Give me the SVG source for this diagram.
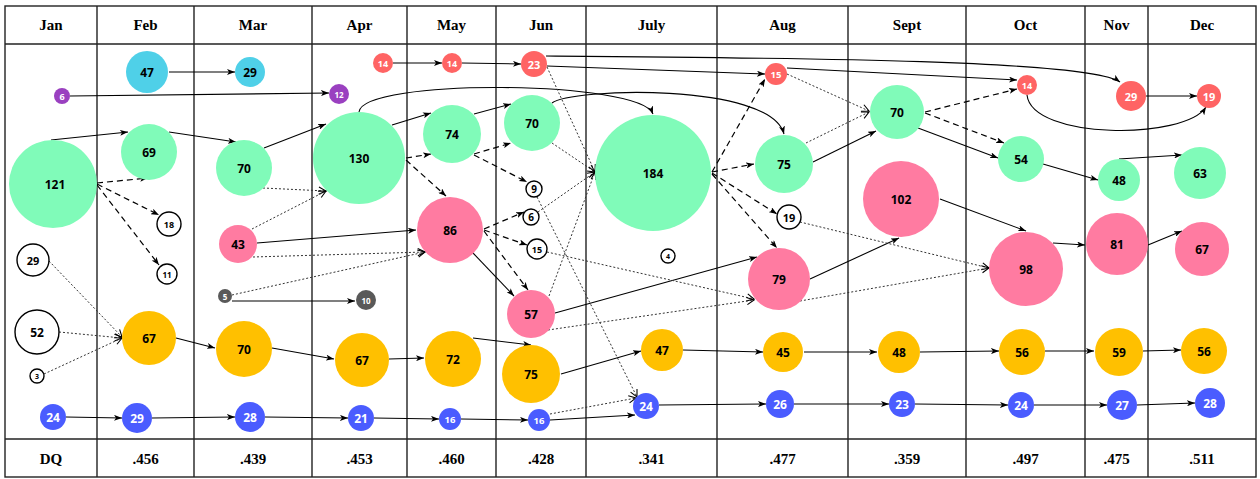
<svg xmlns="http://www.w3.org/2000/svg" width="1260" height="479" viewBox="0 0 1260 479">
<defs>
<marker id="f" viewBox="0 0 8 6" refX="8" refY="3" markerWidth="8" markerHeight="6" orient="auto" markerUnits="userSpaceOnUse"><path d="M0,0 L8,3 L0,6 L2,3 z" fill="#000"/></marker>
<marker id="o" viewBox="0 0 10 10" refX="9" refY="5" markerWidth="9" markerHeight="9" orient="auto" markerUnits="userSpaceOnUse"><path d="M1,1 L9,5 L1,9" fill="none" stroke="#000" stroke-width="1.2"/></marker>
<style>
.grid line,.grid rect{stroke:#222;stroke-width:1.4;fill:none}
.h{font-family:"Liberation Serif",serif;font-weight:bold;font-size:15px;text-anchor:middle;fill:#000}
.s{fill:none;stroke:#000;stroke-width:1.1;marker-end:url(#f)}
.d{fill:none;stroke:#000;stroke-width:1.2;stroke-dasharray:6 4;marker-end:url(#f)}
.t{fill:none;stroke:#333;stroke-width:1;stroke-dasharray:2 2;marker-end:url(#o)}
.n text{font-family:"Open Sans","Noto Sans",sans-serif;font-weight:bold;text-anchor:middle;dominant-baseline:central;font-size:12px;fill:#000}
.gr circle{fill:#80fbb9}
.pk circle{fill:#ff7ba1}
.or circle{fill:#ffc000}
.bl circle{fill:#4a5cff}
.rd circle{fill:#ff6464}
.cy circle{fill:#4fd0e8}
.pu circle{fill:#9a40c0}
.gy circle{fill:#595959}
.wh circle{fill:#fff;stroke:#000;stroke-width:1.4}
.bl text,.rd text,.pu text,.gy text{fill:#fff}
</style>
</defs>
<g class="grid">
<rect x="5" y="6" width="1251" height="471"/>
<line x1="5" y1="44" x2="1256" y2="44"/>
<line x1="5" y1="439" x2="1256" y2="439"/>
<line x1="97" y1="6" x2="97" y2="477"/>
<line x1="194" y1="6" x2="194" y2="477"/>
<line x1="312" y1="6" x2="312" y2="477"/>
<line x1="407" y1="6" x2="407" y2="477"/>
<line x1="496" y1="6" x2="496" y2="477"/>
<line x1="586" y1="6" x2="586" y2="477"/>
<line x1="717" y1="6" x2="717" y2="477"/>
<line x1="848" y1="6" x2="848" y2="477"/>
<line x1="966" y1="6" x2="966" y2="477"/>
<line x1="1085" y1="6" x2="1085" y2="477"/>
<line x1="1148" y1="6" x2="1148" y2="477"/>
</g>
<g id="header">
<text class="h" x="51" y="30">Jan</text>
<text class="h" x="145.5" y="30">Feb</text>
<text class="h" x="253" y="30">Mar</text>
<text class="h" x="359.5" y="30">Apr</text>
<text class="h" x="451.5" y="30">May</text>
<text class="h" x="541" y="30">Jun</text>
<text class="h" x="651.5" y="30">July</text>
<text class="h" x="782.5" y="30">Aug</text>
<text class="h" x="907" y="30">Sept</text>
<text class="h" x="1025.5" y="30">Oct</text>
<text class="h" x="1116.5" y="30">Nov</text>
<text class="h" x="1202" y="30">Dec</text>
</g>
<g id="footer">
<text class="h" x="51" y="464">DQ</text>
<text class="h" x="145.5" y="464">.456</text>
<text class="h" x="253" y="464">.439</text>
<text class="h" x="359.5" y="464">.453</text>
<text class="h" x="451.5" y="464">.460</text>
<text class="h" x="541" y="464">.428</text>
<text class="h" x="651.5" y="464">.341</text>
<text class="h" x="782.5" y="464">.477</text>
<text class="h" x="907" y="464">.359</text>
<text class="h" x="1025.5" y="464">.497</text>
<text class="h" x="1116.5" y="464">.475</text>
<text class="h" x="1202" y="464">.511</text>
</g>
<g id="connectors">
<path class="s" d="M169,72 L235,72"/>
<path class="s" d="M70,96 L329,93"/>
<path class="s" d="M393,63 L442,63"/>
<path class="s" d="M462,63 L521,64"/>
<path class="s" d="M546,56 C800,58 1090,60 1120,82"/>
<path class="s" d="M547,66 L765,74"/>
<path class="s" d="M787,68 L1017,80"/>
<path class="s" d="M1027,95 C1032,140 1185,140 1206,107"/>
<path class="s" d="M1146,96 L1197,96"/>
<path class="s" d="M51,140 L128,132"/>
<path class="s" d="M169,132 L236,142"/>
<path class="s" d="M264,148 L326,124"/>
<path class="s" d="M392,125 L431,113"/>
<path class="s" d="M474,114 L511,104"/>
<path class="s" d="M359,112 C362,78 640,80 653,114"/>
<path class="s" d="M552,103 C570,88 770,82 784,134"/>
<path class="s" d="M813,162 L876,131"/>
<path class="s" d="M918,128 L998,158"/>
<path class="s" d="M1043,164 L1098,180"/>
<path class="s" d="M1119,159 L1182,155"/>
<path class="s" d="M257,243 L416,230"/>
<path class="s" d="M473,253 L514,296"/>
<path class="s" d="M555,313 L757,257"/>
<path class="s" d="M810,279 L899,238"/>
<path class="s" d="M940,199 L1026,231"/>
<path class="s" d="M1053,243 L1085,245"/>
<path class="s" d="M1148,245 L1182,231"/>
<path class="s" d="M232,301 L355,301"/>
<path class="s" d="M176,338 L215,348"/>
<path class="s" d="M272,348 L334,359"/>
<path class="s" d="M389,359 L424,358"/>
<path class="s" d="M473,338 L531,345"/>
<path class="s" d="M561,374 L641,351"/>
<path class="s" d="M683,350 L763,352"/>
<path class="s" d="M804,352 L877,352"/>
<path class="s" d="M920,352 L999,351"/>
<path class="s" d="M1045,351 L1094,351"/>
<path class="s" d="M1143,351 L1181,350"/>
<path class="s" d="M66,417 L122,418"/>
<path class="s" d="M152,418 L235,417"/>
<path class="s" d="M265,417 L348,418"/>
<path class="s" d="M374,418 L439,419"/>
<path class="s" d="M461,419 L528,420"/>
<path class="s" d="M550,420 L635,415"/>
<path class="s" d="M659,405 L766,404"/>
<path class="s" d="M794,404 L889,404"/>
<path class="s" d="M915,404 L1008,405"/>
<path class="s" d="M1034,405 L1107,405"/>
<path class="s" d="M1137,405 L1195,403"/>
<path class="d" d="M97,183 L148,178"/>
<path class="d" d="M97,184 L159,215"/>
<path class="d" d="M97,185 L159,265"/>
<path class="d" d="M406,158 L431,154"/>
<path class="d" d="M406,160 L446,196"/>
<path class="d" d="M474,154 L511,143"/>
<path class="d" d="M474,155 L527,182"/>
<path class="d" d="M484,229 L524,212"/>
<path class="d" d="M484,230 L527,245"/>
<path class="d" d="M484,231 L528,290"/>
<path class="d" d="M712,172 L765,79"/>
<path class="d" d="M712,172 L754,164"/>
<path class="d" d="M712,173 L777,214"/>
<path class="d" d="M712,174 L777,248"/>
<path class="d" d="M925,112 L1017,89"/>
<path class="d" d="M925,113 L1004,143"/>
<path class="t" d="M49,261 L122,337"/>
<path class="t" d="M59,332 L122,338"/>
<path class="t" d="M44,374 L122,338"/>
<path class="t" d="M263,188 L326,191"/>
<path class="t" d="M252,229 L326,191"/>
<path class="t" d="M253,257 L425,252"/>
<path class="t" d="M232,295 L425,252"/>
<path class="t" d="M552,143 L595,172"/>
<path class="t" d="M547,67 L595,172"/>
<path class="t" d="M538,212 L595,172"/>
<path class="t" d="M549,296 L595,172"/>
<path class="t" d="M537,197 L637,397"/>
<path class="t" d="M550,414 L636,398"/>
<path class="t" d="M547,252 L754,299"/>
<path class="t" d="M548,330 L754,300"/>
<path class="t" d="M806,143 L869,112"/>
<path class="t" d="M787,74 L869,111"/>
<path class="t" d="M800,222 L989,268"/>
<path class="t" d="M800,301 L989,268"/>
</g>
<g id="n-jan-121" class="n gr"><circle cx="53" cy="184" r="44"/><text x="55" y="184">121</text></g>
<g id="n-jan-6" class="n pu"><circle cx="62" cy="96" r="8"/><text x="62" y="96" style="font-size:9px">6</text></g>
<g id="n-jan-29" class="n wh"><circle cx="33" cy="260" r="16"/><text x="33" y="260" style="font-size:11px">29</text></g>
<g id="n-jan-52" class="n wh"><circle cx="37" cy="332" r="22"/><text x="37" y="332">52</text></g>
<g id="n-jan-3" class="n wh"><circle cx="37" cy="376" r="7"/><text x="37" y="376" style="font-size:7px">3</text></g>
<g id="n-jan-24" class="n bl"><circle cx="53" cy="417" r="13"/><text x="53" y="417">24</text></g>
<g id="n-feb-47" class="n cy"><circle cx="147" cy="72" r="21"/><text x="147" y="72">47</text></g>
<g id="n-feb-69" class="n gr"><circle cx="149" cy="152" r="28"/><text x="149" y="152">69</text></g>
<g id="n-feb-18" class="n wh"><circle cx="169" cy="224" r="12"/><text x="169" y="224" style="font-size:9px">18</text></g>
<g id="n-feb-11" class="n wh"><circle cx="167" cy="274" r="10"/><text x="167" y="274" style="font-size:8px">11</text></g>
<g id="n-feb-67" class="n or"><circle cx="149" cy="338" r="27"/><text x="149" y="338">67</text></g>
<g id="n-feb-29" class="n bl"><circle cx="137" cy="418" r="15"/><text x="137" y="418">29</text></g>
<g id="n-mar-29" class="n cy"><circle cx="250" cy="72" r="15"/><text x="250" y="72">29</text></g>
<g id="n-mar-70" class="n gr"><circle cx="244" cy="168" r="28"/><text x="244" y="168">70</text></g>
<g id="n-mar-43" class="n pk"><circle cx="238" cy="244" r="19"/><text x="238" y="244">43</text></g>
<g id="n-mar-5" class="n gy"><circle cx="225" cy="296" r="7"/><text x="225" y="296" style="font-size:8px">5</text></g>
<g id="n-mar-70b" class="n or"><circle cx="244" cy="349" r="28"/><text x="244" y="349">70</text></g>
<g id="n-mar-28" class="n bl"><circle cx="250" cy="417" r="15"/><text x="250" y="417">28</text></g>
<g id="n-apr-14" class="n rd"><circle cx="383" cy="63" r="10"/><text x="383" y="63" style="font-size:9px">14</text></g>
<g id="n-apr-12" class="n pu"><circle cx="339" cy="94" r="10"/><text x="339" y="94" style="font-size:8px">12</text></g>
<g id="n-apr-130" class="n gr"><circle cx="359" cy="158" r="46"/><text x="359" y="158">130</text></g>
<g id="n-apr-10" class="n gy"><circle cx="366" cy="300" r="10"/><text x="366" y="300" style="font-size:8px">10</text></g>
<g id="n-apr-67" class="n or"><circle cx="362" cy="360" r="27"/><text x="362" y="360">67</text></g>
<g id="n-apr-21" class="n bl"><circle cx="361" cy="418" r="13"/><text x="361" y="418">21</text></g>
<g id="n-may-14" class="n rd"><circle cx="452" cy="63" r="10"/><text x="452" y="63" style="font-size:9px">14</text></g>
<g id="n-may-74" class="n gr"><circle cx="452" cy="134" r="29"/><text x="452" y="134">74</text></g>
<g id="n-may-86" class="n pk"><circle cx="450" cy="230" r="33"/><text x="450" y="230">86</text></g>
<g id="n-may-72" class="n or"><circle cx="453" cy="359" r="28"/><text x="453" y="359">72</text></g>
<g id="n-may-16" class="n bl"><circle cx="450" cy="419" r="11"/><text x="450" y="419" style="font-size:9.5px">16</text></g>
<g id="n-jun-23" class="n rd"><circle cx="534" cy="64" r="13"/><text x="534" y="64" style="font-size:11px">23</text></g>
<g id="n-jun-70" class="n gr"><circle cx="532" cy="123" r="28"/><text x="532" y="123">70</text></g>
<g id="n-jun-9" class="n wh"><circle cx="534" cy="189" r="8"/><text x="534" y="189" style="font-size:10px">9</text></g>
<g id="n-jun-6" class="n wh"><circle cx="531" cy="217" r="8"/><text x="531" y="217" style="font-size:10px">6</text></g>
<g id="n-jun-15" class="n wh"><circle cx="537" cy="249" r="10"/><text x="537" y="249" style="font-size:9px">15</text></g>
<g id="n-jun-57" class="n pk"><circle cx="531" cy="314" r="24"/><text x="531" y="314">57</text></g>
<g id="n-jun-75" class="n or"><circle cx="531" cy="374" r="29"/><text x="531" y="374">75</text></g>
<g id="n-jun-16" class="n bl"><circle cx="539" cy="420" r="11"/><text x="539" y="420" style="font-size:9.5px">16</text></g>
<g id="n-jul-184" class="n gr"><circle cx="653" cy="173" r="58"/><text x="653" y="173">184</text></g>
<g id="n-jul-4" class="n wh"><circle cx="668" cy="256" r="7"/><text x="668" y="256" style="font-size:7px">4</text></g>
<g id="n-jul-47" class="n or"><circle cx="662" cy="350" r="21"/><text x="662" y="350">47</text></g>
<g id="n-jul-24" class="n bl"><circle cx="646" cy="406" r="13"/><text x="646" y="406">24</text></g>
<g id="n-aug-15" class="n rd"><circle cx="776" cy="74" r="11"/><text x="776" y="74" style="font-size:9.5px">15</text></g>
<g id="n-aug-75" class="n gr"><circle cx="784" cy="164" r="29"/><text x="784" y="164">75</text></g>
<g id="n-aug-19" class="n wh"><circle cx="789" cy="217" r="12"/><text x="789" y="217" style="font-size:11px">19</text></g>
<g id="n-aug-79" class="n pk"><circle cx="779" cy="279" r="31"/><text x="779" y="279">79</text></g>
<g id="n-aug-45" class="n or"><circle cx="783" cy="352" r="20"/><text x="783" y="352">45</text></g>
<g id="n-aug-26" class="n bl"><circle cx="780" cy="404" r="14"/><text x="780" y="404">26</text></g>
<g id="n-sep-70" class="n gr"><circle cx="897" cy="112" r="27"/><text x="897" y="112">70</text></g>
<g id="n-sep-102" class="n pk"><circle cx="901" cy="199" r="38"/><text x="901" y="199">102</text></g>
<g id="n-sep-48" class="n or"><circle cx="899" cy="352" r="21"/><text x="899" y="352">48</text></g>
<g id="n-sep-23" class="n bl"><circle cx="902" cy="404" r="13"/><text x="902" y="404">23</text></g>
<g id="n-oct-14" class="n rd"><circle cx="1027" cy="85" r="10"/><text x="1027" y="85" style="font-size:9px">14</text></g>
<g id="n-oct-54" class="n gr"><circle cx="1021" cy="159" r="23"/><text x="1021" y="159">54</text></g>
<g id="n-oct-98" class="n pk"><circle cx="1026" cy="269" r="37"/><text x="1026" y="269">98</text></g>
<g id="n-oct-56" class="n or"><circle cx="1022" cy="352" r="23"/><text x="1022" y="352">56</text></g>
<g id="n-oct-24" class="n bl"><circle cx="1021" cy="405" r="13"/><text x="1021" y="405">24</text></g>
<g id="n-nov-29" class="n rd"><circle cx="1131" cy="96" r="15"/><text x="1131" y="96" style="font-size:11px">29</text></g>
<g id="n-nov-48" class="n gr"><circle cx="1119" cy="180" r="21"/><text x="1119" y="180">48</text></g>
<g id="n-nov-81" class="n pk"><circle cx="1117" cy="244" r="31"/><text x="1117" y="244">81</text></g>
<g id="n-nov-59" class="n or"><circle cx="1119" cy="352" r="24"/><text x="1119" y="352">59</text></g>
<g id="n-nov-27" class="n bl"><circle cx="1122" cy="405" r="15"/><text x="1122" y="405">27</text></g>
<g id="n-dec-19" class="n rd"><circle cx="1209" cy="96" r="12"/><text x="1209" y="96" style="font-size:11px">19</text></g>
<g id="n-dec-63" class="n gr"><circle cx="1200" cy="173" r="26"/><text x="1200" y="173">63</text></g>
<g id="n-dec-67" class="n pk"><circle cx="1202" cy="249" r="27"/><text x="1202" y="249">67</text></g>
<g id="n-dec-56" class="n or"><circle cx="1204" cy="351" r="23"/><text x="1204" y="351">56</text></g>
<g id="n-dec-28" class="n bl"><circle cx="1210" cy="403" r="15"/><text x="1210" y="403">28</text></g>
</svg>
